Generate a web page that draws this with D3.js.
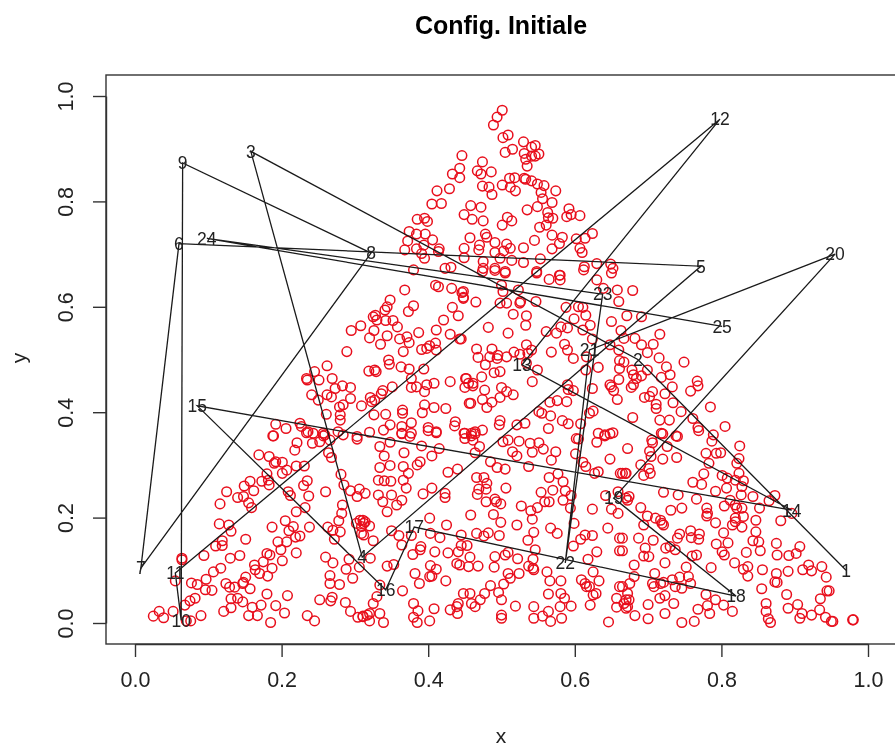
<!DOCTYPE html>
<html>
<head>
<meta charset="utf-8">
<script src="https://cdn.jsdelivr.net/npm/d3@7"></script>
<style>
  html, body { margin: 0; padding: 0; background: #fff; overflow: hidden; }
  svg { display: block; }
  text { font-family: "Liberation Sans", sans-serif; fill: #222; }
</style>
</head>
<body>
<script>
// Tick labels
const xTicks = [0, 0.2, 0.4, 0.6, 0.8, 1];
const yTicks = [0, 0.2, 0.4, 0.6, 0.8, 1];

// Numbered nodes, in path order (label = index + 1)
const nodeX = [0.97,0.686,0.158,0.31,0.772,0.06,0.008,0.322,0.065,0.063,0.055,0.798,0.528,0.896,0.085,0.342,0.381,0.82,0.653,0.955,0.62,0.587,0.638,0.098,0.801];
const nodeY = [0.1,0.5,0.895,0.125,0.677,0.72,0.104,0.702,0.873,0.005,0.095,0.956,0.49,0.214,0.412,0.063,0.182,0.051,0.237,0.70,0.518,0.114,0.624,0.73,0.563];

// Red circles, [x, y]
const cloud = [
[.188,.355],[.169,.319],[.183,.316],[.192,.306],[.201,.305],[.218,.328],[.221,.342],[.242,.341],[.234,.361],[.257,.355],[.252,.344],[.266,.347],[.264,.323],[.268,.314],[.303,.349],[.231,.298],[.22,.298],[.207,.29],[.201,.284],[.18,.283],[.19,.303],
[.125,.249],[.116,.226],[.149,.26],[.157,.269],[.162,.251],[.173,.269],[.182,.271],[.183,.262],[.14,.238],[.148,.24],[.155,.228],[.159,.219],[.209,.249],[.212,.242],[.23,.261],[.235,.27],[.237,.241],[.232,.219],[.22,.211],[.26,.249],[.281,.282],[.285,.262],[.294,.251],[.306,.254],[.303,.24],[.314,.246],[.283,.224],[.282,.208],[.278,.194],[.307,.195],[.314,.192],[.309,.183],[.302,.189],
[.115,.188],[.128,.186],[.131,.174],[.151,.159],[.119,.156],[.119,.147],[.11,.146],[.187,.182],[.205,.194],[.216,.183],[.21,.175],[.219,.163],[.225,.165],[.238,.182],[.195,.154],[.207,.154],[.199,.139],[.22,.133],[.18,.132],[.184,.129],[.175,.116],[.201,.118],[.187,.104],[.163,.11],[.164,.101],[.17,.094],[.181,.089],
[.263,.182],[.27,.176],[.28,.173],[.272,.159],[.312,.167],[.26,.125],[.27,.114],[.292,.121],[.288,.102],[.306,.106],[.297,.085],[.266,.09],[.266,.075],[.279,.073],
[.064,.123],[.064,.12],[.094,.128],[.13,.123],[.143,.128],[.117,.104],[.107,.097],[.097,.083],[.055,.08],[.077,.076],[.085,.073],[.096,.063],[.105,.062],[.124,.075],[.129,.068],[.136,.068],[.148,.077],[.151,.087],[.157,.065],[.147,.075],
[.082,.047],[.075,.042],[.068,.034],[.131,.046],[.14,.047],[.147,.04],[.131,.029],[.121,.022],[.18,.055],[.208,.052],[.172,.034],[.192,.033],[.16,.03],[.155,.014],[.167,.014],[.204,.019],[.185,.001],[.252,.044],[.269,.049],[.267,.042],[.287,.039],[.294,.022],[.235,.014],[.245,.004],[.304,.011],[.311,.013],[.317,.015],
[.025,.013],[.033,.022],[.039,.01],[.052,.022],[.09,.014],[.076,.004],[.07,.004],
[.334,.335],[.348,.343],[.34,.317],[.367,.323],[.334,.295],[.348,.299],[.366,.297],[.373,.284],[.366,.271],[.37,.256],[.332,.271],[.34,.27],[.349,.269],[.332,.243],[.338,.23],[.35,.243],[.364,.233],[.357,.224],[.344,.211],
[.389,.306],[.385,.3],[.391,.336],[.405,.317],[.415,.331],[.364,.359],[.375,.354],[.4,.365],[.411,.361],[.45,.35],[.464,.359],[.461,.347],[.47,.335],[.464,.323],[.502,.344],[.524,.345],[.509,.347],[.515,.325],[.521,.317],[.485,.306],[.494,.295],[.505,.292],[.539,.341],[.551,.342],[.542,.324],[.557,.33],[.574,.325],[.568,.309],[.537,.297],
[.427,.286],[.44,.292],[.466,.276],[.476,.276],[.469,.254],[.467,.244],[.479,.254],[.48,.265],[.506,.256],[.393,.245],[.405,.256],[.423,.246],[.423,.238],[.479,.23],[.491,.235],[.493,.23],[.499,.226],
[.565,.276],[.577,.283],[.584,.268],[.57,.252],[.554,.248],[.587,.251],[.584,.233],[.565,.23],[.559,.23],[.549,.219],[.527,.222],[.54,.213],[.542,.197],[.594,.218],[.595,.242],
[.605,.349],[.601,.321],[.611,.305],[.615,.297],[.63,.343],[.641,.355],[.648,.359],[.648,.311],[.632,.287],[.627,.284],[.662,.284],[.67,.284],[.624,.216],[.642,.242],[.65,.216],[.659,.208],[.659,.249],[.67,.237],
[.402,.199],[.425,.186],[.458,.205],[.489,.206],[.499,.191],[.521,.186],[.544,.172],[.536,.157],[.567,.18],[.576,.17],[.599,.189],[.598,.146],[.608,.159],[.614,.167],[.624,.166],[.645,.18],[.661,.161],[.661,.137],[.63,.135],[.618,.121],
[.35,.175],[.36,.166],[.364,.148],[.377,.166],[.39,.145],[.389,.139],[.379,.13],[.409,.135],[.403,.17],[.416,.162],[.445,.167],[.466,.17],[.476,.165],[.482,.171],[.497,.166],[.445,.147],[.453,.147],[.427,.133],[.441,.135],[.439,.113],[.443,.11],[.457,.125],[.455,.107],[.468,.108],[.491,.126],[.49,.106],[.505,.129],[.509,.134],[.522,.122],[.543,.121],[.546,.139],[.537,.108],[.543,.104],[.544,.101],
[.311,.195],[.32,.184],[.312,.189],[.309,.17],[.325,.156],[.321,.123],[.344,.108],[.353,.111],[.382,.094],[.388,.075],[.403,.109],[.411,.102],[.405,.089],[.402,.088],[.424,.08],[.509,.094],[.524,.094],[.512,.085],[.503,.074],[.485,.071],[.448,.056],[.457,.056],[.477,.056],[.496,.058],[.471,.044],[.5,.044],[.459,.037],[.464,.031],[.441,.037],[.439,.031],[.43,.025],[.44,.018],[.519,.032],
[.365,.061],[.334,.072],[.33,.05],[.325,.037],[.311,.012],[.32,.018],[.334,.018],[.32,.004],[.339,.001],[.38,.037],[.386,.023],[.408,.027],[.38,.011],[.385,.001],[.402,.004],[.5,.015],[.5,.009],[.544,.031],[.544,.009],[.556,.013],[.564,.022],[.567,.003],[.582,.009],[.58,.031],[.564,.055],[.562,.097],[.566,.08],[.581,.08],[.581,.056],[.586,.047],[.595,.032],
[.609,.082],[.614,.075],[.625,.097],[.633,.08],[.62,.069],[.629,.056],[.625,.053],[.621,.034],[.661,.069],[.657,.047],[.67,.044],[.657,.03],[.67,.028],[.646,.002],[.616,.069],
[.672,.331],[.706,.342],[.702,.326],[.704,.316],[.72,.359],[.74,.354],[.726,.335],[.72,.311],[.739,.314],[.69,.3],[.701,.293],[.703,.284],[.694,.28],[.669,.284],[.665,.284],[.721,.248],[.741,.243],[.674,.24],[.672,.233],[.69,.219],[.699,.203],[.694,.186],[.731,.214],[.746,.218],[.71,.199],[.717,.195],[.719,.189],[.721,.186],[.766,.235],[.761,.267],[.773,.263],
[.769,.365],[.787,.345],[.799,.323],[.793,.322],[.779,.322],[.783,.303],[.825,.336],[.824,.312],[.821,.303],[.776,.283],[.801,.28],[.808,.275],[.824,.284],[.819,.271],[.83,.27],[.807,.256],[.792,.25],[.828,.259],[.827,.243],[.843,.24],[.812,.233],[.804,.222],[.819,.224],[.821,.218],[.828,.218],[.78,.218],[.781,.208],[.78,.203],[.792,.19],[.819,.199],[.819,.192],[.83,.202],[.815,.186],[.828,.182],[.803,.171],[.852,.218],[.847,.195],[.847,.173],[.851,.154],[.843,.156],[.873,.242],[.865,.232],[.896,.208],[.881,.194],
[.743,.169],[.74,.161],[.758,.175],[.77,.169],[.759,.162],[.769,.159],[.687,.161],[.707,.157],[.665,.161],[.665,.137],[.696,.142],[.694,.127],[.701,.126],[.724,.142],[.73,.145],[.737,.139],[.76,.127],[.766,.129],[.793,.15],[.809,.152],[.801,.135],[.804,.129],[.834,.134],[.853,.137],[.875,.151],[.876,.129],[.892,.128],[.902,.132],[.907,.145],
[.681,.11],[.723,.114],[.752,.106],[.786,.105],[.818,.114],[.83,.102],[.836,.107],[.836,.089],[.856,.101],[.875,.094],[.891,.098],[.911,.101],[.919,.11],[.923,.099],[.937,.107],[.943,.087],
[.709,.094],[.681,.088],[.675,.075],[.706,.075],[.708,.069],[.717,.075],[.721,.077],[.733,.082],[.743,.087],[.737,.069],[.746,.066],[.755,.088],[.758,.075],[.665,.069],[.672,.056],[.674,.044],[.667,.037],[.672,.031],[.723,.052],[.716,.047],[.735,.037],[.7,.035],[.779,.054],[.792,.044],[.781,.033],[.768,.026],[.803,.034],[.815,.022],[.784,.018],[.723,.018],[.682,.014],[.7,.008],[.746,.001],[.763,.003],
[.873,.078],[.876,.077],[.855,.065],[.889,.054],[.944,.061],[.947,.061],[.935,.046],[.861,.037],[.861,.022],[.864,.008],[.867,.001],[.891,.028],[.904,.035],[.91,.018],[.907,.009],[.923,.015],[.934,.025],[.942,.011],[.95,.003],[.952,.003],[.979,.006],[.98,.006],
[.368,.632],[.41,.641],[.414,.638],[.432,.635],[.446,.627],[.448,.618],[.348,.613],[.344,.6],[.341,.594],[.328,.584],[.33,.575],[.325,.581],[.38,.602],[.373,.591],[.433,.599],[.441,.583],[.421,.575],[.342,.574],[.352,.574],[.358,.562],[.308,.564],[.295,.555],[.326,.555],[.32,.541],[.344,.545],[.335,.529],[.361,.539],[.371,.543],[.374,.532],[.387,.551],[.411,.556],[.43,.548],[.443,.539],[.366,.515],[.391,.519],[.398,.521],[.402,.526],[.41,.531],[.411,.518],[.289,.515],
[.262,.488],[.245,.477],[.234,.464],[.235,.461],[.251,.461],[.269,.464],[.283,.45],[.273,.445],[.294,.447],[.346,.499],[.347,.491],[.363,.486],[.374,.482],[.319,.478],[.327,.48],[.329,.477],[.394,.482],[.377,.464],[.377,.447],[.384,.448],[.398,.452],[.408,.455],[.395,.439],[.43,.458],[.451,.464],[.455,.455],[.351,.448],[.241,.433],[.25,.423],[.262,.433],[.268,.429],[.294,.426],[.338,.441],[.336,.435],[.321,.428],[.309,.412],[.323,.42],[.327,.423],[.284,.414],[.279,.41],[.395,.414],[.408,.409],[.424,.407],[.392,.399],[.365,.404],[.365,.398],[.456,.417],[.261,.396],[.28,.395],[.28,.385],[.326,.395],[.342,.396],
[.192,.377],[.206,.369],[.225,.379],[.227,.373],[.236,.363],[.189,.355],[.243,.36],[.257,.36],[.259,.357],[.277,.363],[.284,.357],[.348,.376],[.339,.366],[.32,.362],[.303,.354],[.364,.373],[.377,.38],[.377,.36],[.364,.36],[.4,.371],[.411,.363],[.437,.382],[.436,.374],[.449,.36],[.459,.355],
[.474,.667],[.491,.669],[.505,.664],[.548,.664],[.565,.652],[.58,.66],[.58,.651],[.612,.67],[.63,.651],[.639,.635],[.65,.664],[.658,.632],[.679,.631],[.66,.61],[.5,.641],[.502,.629],[.523,.632],[.448,.629],[.448,.616],[.465,.609],[.498,.607],[.507,.607],[.526,.61],[.525,.607],[.547,.61],[.516,.586],[.534,.583],[.533,.565],[.482,.561],[.509,.55],[.445,.539],
[.588,.599],[.605,.6],[.611,.599],[.615,.584],[.599,.577],[.621,.565],[.611,.556],[.561,.553],[.575,.55],[.581,.562],[.59,.56],[.586,.529],[.59,.518],[.598,.502],[.568,.514],[.624,.539],[.616,.505],[.632,.485],[.615,.48],[.624,.445],[.65,.572],[.671,.583],[.691,.581],[.663,.555],[.667,.54],[.716,.548],[.682,.54],[.691,.528],[.707,.529],[.699,.513],[.648,.528],[.66,.518],[.715,.503],[.749,.495],
[.466,.52],[.468,.504],[.487,.52],[.484,.505],[.495,.508],[.494,.502],[.507,.505],[.517,.514],[.525,.51],[.534,.528],[.536,.512],[.541,.518],[.478,.49],[.49,.475],[.498,.477],[.473,.467],[.452,.464],[.45,.447],[.461,.455],[.461,.45],[.534,.493],[.549,.48],[.542,.458],
[.661,.498],[.667,.495],[.661,.483],[.678,.48],[.68,.471],[.691,.469],[.684,.464],[.699,.48],[.725,.486],[.718,.466],[.73,.471],[.66,.462],[.648,.452],[.65,.448],[.653,.441],[.68,.452],[.677,.447],[.658,.424],[.733,.448],[.758,.44],[.767,.459],[.768,.45],[.706,.439],[.723,.435],[.695,.428],[.702,.43],
[.477,.442],[.474,.424],[.458,.417],[.487,.419],[.48,.409],[.498,.428],[.5,.447],[.507,.439],[.516,.433],[.59,.452],[.591,.443],[.598,.441],[.566,.419],[.576,.422],[.589,.42],[.711,.415],[.711,.407],[.734,.418],[.745,.401],[.785,.41],[.551,.401],[.555,.398],[.567,.393],[.583,.384],[.591,.378],[.608,.378],[.625,.402],[.62,.398],[.679,.39],[.716,.385],[.729,.385],[.768,.371],[.761,.388],[.805,.373],
[.498,.384],[.497,.376],[.521,.376],[.532,.379],[.564,.369],[.474,.366],[.464,.363],[.459,.36],[.45,.36],[.602,.35],[.632,.36],[.641,.357],[.652,.361],[.705,.347],[.718,.36],[.738,.355],[.789,.357],
[.501,.973],[.494,.96],[.489,.945],[.509,.926],[.502,.921],[.53,.913],[.505,.893],[.515,.899],[.546,.906],[.541,.903],[.531,.891],[.551,.89],[.546,.886],[.533,.88],[.541,.886],[.535,.867],[.446,.887],[.474,.875],[.467,.858],[.472,.852],[.486,.856],[.443,.863],[.433,.852],[.443,.845],[.511,.844],[.518,.845],[.531,.844],[.533,.842],[.541,.839],[.549,.833],[.558,.83],[.501,.831],[.512,.827],[.519,.82],[.474,.829],[.483,.827],[.487,.813],[.574,.82],[.554,.817],[.556,.805],[.412,.82],[.429,.824],[.405,.795],[.418,.796],[.569,.798],[.458,.792],[.472,.789],[.549,.79],[.535,.784],[.563,.779],[.592,.786],[.595,.775],[.607,.773],[.589,.771],[.449,.775],[.46,.766],[.475,.763],[.508,.77],[.514,.763],[.501,.755],[.57,.768],[.564,.769],[.552,.751],[.561,.755],
[.385,.766],[.395,.768],[.399,.762],[.374,.743],[.384,.738],[.396,.738],[.406,.727],[.372,.725],[.368,.708],[.384,.71],[.391,.701],[.395,.692],[.415,.71],[.414,.705],[.394,.717],
[.457,.731],[.478,.738],[.48,.732],[.491,.722],[.507,.719],[.512,.711],[.47,.717],[.469,.708],[.449,.711],[.449,.693],[.491,.703],[.503,.706],[.498,.692],[.53,.712],[.545,.726],[.514,.688],[.53,.684],[.553,.691],[.475,.686],[.491,.673],[.505,.667],[.475,.673],[.423,.673],[.431,.675],[.38,.67],[.569,.736],[.583,.732],[.579,.72],[.569,.71],[.602,.729],[.614,.73],[.624,.739],[.607,.711],[.61,.703],[.613,.676],[.63,.682],[.649,.681],[.652,.673],[.579,.66],[.548,.667]
];

const width = 895, height = 749;
// the right side of the box falls outside the picture
const boxLeft = 106, boxRight = 900, boxTop = 75, boxBottom = 644;

const svg = d3.select('body').append('svg')
  .attr('width', width)
  .attr('height', height);

const x = d3.scaleLinear().domain([0, 1]).range([135, 868]);
const y = d3.scaleLinear().domain([0, 1]).range([623, 96]);

// The picture is a soft upscale, a slight blur brings the lines closer
const defs = svg.append('defs');
defs.append('filter').attr('id', 'soft')
  .attr('filterUnits', 'userSpaceOnUse')
  .attr('x', 0).attr('y', 0).attr('width', width).attr('height', height)
  .append('feGaussianBlur').attr('stdDeviation', 0.45);

const plot = svg.append('g').attr('filter', 'url(#soft)');

// Red circles
plot.append('g').selectAll('circle')
  .data(cloud)
  .enter()
  .append('circle')
  .attr('cx', d => x(d[0]))
  .attr('cy', d => y(d[1]))
  .attr('r', 4.8)
  .attr('fill', 'none')
  .attr('stroke', '#e8101c')
  .attr('stroke-width', 1.5);

// Path through the numbered nodes
const nodes = nodeX.map((v, i) => ({ x: v, y: nodeY[i], label: i + 1 }));
const line = d3.line().x(d => x(d.x)).y(d => y(d.y));

plot.append('path')
  .attr('d', line(nodes))
  .attr('fill', 'none')
  .attr('stroke', '#1a1a1a')
  .attr('stroke-width', 1.3);

plot.append('g').selectAll('text')
  .data(nodes)
  .enter()
  .append('text')
  .attr('x', d => x(d.x))
  .attr('y', d => y(d.y))
  .attr('dy', '0.36em')
  .attr('text-anchor', 'middle')
  .attr('font-size', '17.5px')
  .text(d => d.label);

// Box
plot.append('rect')
  .attr('x', boxLeft)
  .attr('y', boxTop)
  .attr('width', boxRight - boxLeft)
  .attr('height', boxBottom - boxTop)
  .attr('fill', 'none')
  .attr('stroke', '#333')
  .attr('stroke-width', 1.4);

// Axes
const xAxis = plot.append('g')
  .attr('transform', `translate(0, ${boxBottom})`)
  .call(d3.axisBottom(x).tickValues(xTicks).tickFormat(d3.format('.1f')).tickSize(13).tickSizeOuter(0).tickPadding(15));

const yAxis = plot.append('g')
  .attr('transform', `translate(${boxLeft}, 0)`)
  .call(d3.axisLeft(y).tickValues(yTicks).tickFormat(d3.format('.1f')).tickSize(13).tickSizeOuter(0));

yAxis.selectAll('.tick text')
  .attr('transform', 'rotate(-90)')
  .attr('x', 0)
  .attr('y', -33)
  .attr('dy', 0)
  .attr('text-anchor', 'middle');

[xAxis, yAxis].forEach(a => {
  a.attr('font-family', null).attr('font-size', null);
  a.selectAll('.tick text').attr('font-size', '21.5px').style('fill', '#222');
  a.selectAll('.tick line').attr('stroke', '#333').attr('stroke-width', 1.4);
  a.select('.domain').attr('stroke', '#333').attr('stroke-width', 1.4);
});

// Titles
plot.append('text')
  .attr('x', 501)
  .attr('y', 34)
  .attr('text-anchor', 'middle')
  .attr('font-size', '25px')
  .attr('font-weight', 'bold')
  .style('fill', '#000')
  .text('Config. Initiale');

plot.append('text')
  .attr('x', 501)
  .attr('y', 743)
  .attr('text-anchor', 'middle')
  .attr('font-size', '21px')
  .text('x');

plot.append('text')
  .attr('transform', 'translate(26, 358) rotate(-90)')
  .attr('text-anchor', 'middle')
  .attr('font-size', '21px')
  .text('y');
</script>
</body>
</html>
